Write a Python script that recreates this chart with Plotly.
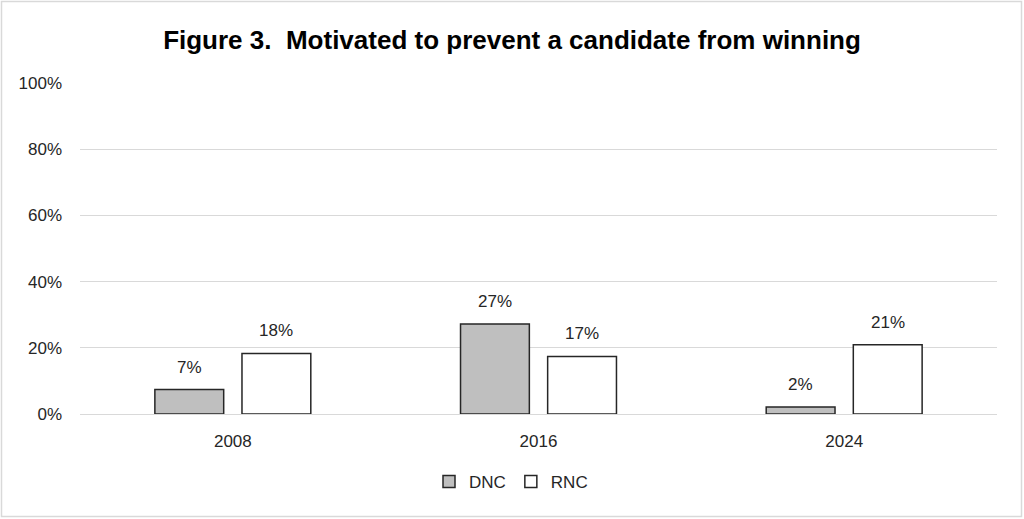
import plotly.graph_objects as go

years = ["2008", "2016", "2024"]
dnc = [7.4, 27.2, 2.1]
rnc = [18.3, 17.4, 20.9]
y_ticks = [0, 20, 40, 60, 80, 100]
y_tick_labels = ["0%", "20%", "40%", "60%", "80%", "100%"]

W, H = 1024, 519
ml, mr, mt, mb = 80, 27, 83, 105
pw, ph = W - ml - mr, H - mt - mb
BARGAP, GROUPGAP = 0.43, 0.21
FONT = "Liberation Sans"
TXT = "#262626"

fig = go.Figure()
fig.add_trace(go.Bar(
    name="DNC", x=years, y=dnc,
    marker=dict(color="#BFBFBF", line=dict(color="#262626", width=1.5)),
))
fig.add_trace(go.Bar(
    name="RNC", x=years, y=rnc,
    marker=dict(color="#FFFFFF", line=dict(color="#262626", width=1.5)),
))

# data labels above bars (category index positions on the category axis)
slot = (pw / len(years)) * (1 - BARGAP) / 2
for series, sign in ((dnc, -1), (rnc, 1)):
    for i, v in enumerate(series):
        fig.add_annotation(
            x=i, y=v, xref="x", yref="y", text=f"{v:.0f}%", showarrow=False,
            xshift=sign * slot / 2, yshift=11, yanchor="bottom",
            font=dict(family=FONT, size=17, color=TXT),
        )

fig.update_layout(
    width=W, height=H,
    margin=dict(l=ml, r=mr, t=mt, b=mb),
    paper_bgcolor="white", plot_bgcolor="white",
    barmode="group", bargap=BARGAP, bargroupgap=GROUPGAP,
    font=dict(family=FONT, size=17, color=TXT),
    title=dict(
        text="<b>Figure 3.  Motivated to prevent a candidate from winning</b>",
        x=0.5, xanchor="center", y=1 - 40 / H, yanchor="middle",
        font=dict(family=FONT, size=26, color="black"),
    ),
    showlegend=True,
    legend=dict(
        orientation="h", x=(443 - 14 - ml) / pw, xanchor="left",
        y=-(482 - (mt + ph)) / ph, yanchor="middle",
        font=dict(family=FONT, size=17, color=TXT),
        itemwidth=30, traceorder="normal",
    ),
    xaxis=dict(type="category", categoryorder="array", categoryarray=years,
               range=[-0.5, len(years) - 0.5],
               showgrid=False, showline=False,
               ticks="outside", ticklen=12, tickcolor="rgba(0,0,0,0)",
               tickfont=dict(size=17)),
    yaxis=dict(
        range=[0, 100], tickvals=y_ticks, ticktext=y_tick_labels,
        showgrid=True, gridcolor="#D9D9D9", gridwidth=1,
        zeroline=True, zerolinecolor="#D9D9D9", zerolinewidth=1,
        showline=False, ticks="", ticklabelstandoff=17, tickfont=dict(size=17),
    ),
)

# figure border
x0 = -(ml - 1.5) / pw
x1 = 1 + (mr - 2.5) / pw
y0 = -(mb - 2.5) / ph
y1 = 1 + (mt - 1.5) / ph
fig.add_shape(type="rect", xref="paper", yref="paper", x0=x0, x1=x1, y0=y0, y1=y1,
              line=dict(color="#D9D9D9", width=1.5), fillcolor="rgba(0,0,0,0)", layer="below")

fig.write_html("out.html", config={"displayModeBar": False},
               post_script="document.body.style.margin='0';")
